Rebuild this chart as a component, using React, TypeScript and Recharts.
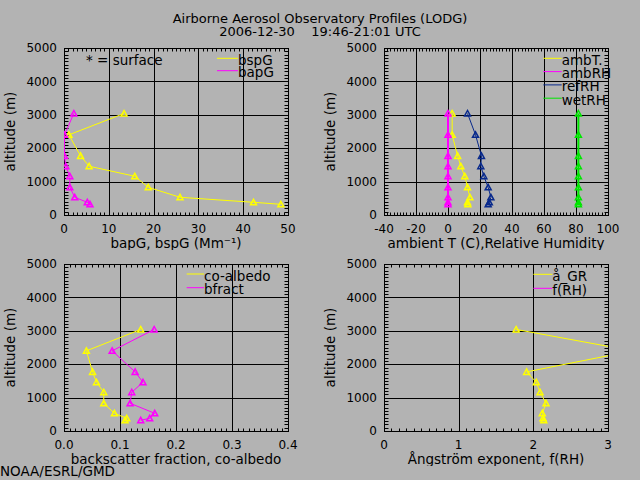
import React from 'react';
import { ScatterChart, Scatter, XAxis, YAxis, Legend, Label } from 'recharts';

const BG = '#b3b3b3';
const FONT = 'DejaVu Sans';
const YELLOW = '#ffff00';
const MAGENTA = '#ff00ff';
const NAVY = '#08298c';
const GREEN = '#00e600';

// profile levels (m), top of the flight first
const altitude = [3040, 2400, 1770, 1460, 1160, 830, 530, 380, 320];

// scattering / absorption (Mm-1)
const bspG = [13.4, 1.1, 3.7, 5.6, 15.8, 18.8, 25.9, 42.3, 48.4];
const bapG = [2.2, 0.1, 0.1, 0.4, 1.3, 1.3, 2.4, 5.2, 5.8];

// temperature (C) and humidities (%)
const ambT = [2.6, 2.6, 6.0, 8.0, 10.5, 12.2, 13.7, 12.2, 12.4];
const ambRH = [0, 0, 0, 0, 0, 0, 0, 0, 0];
const refRH = [12.2, 17.2, 20.9, 20.5, 22.4, 25.1, 26.8, 25.8, 25.1];
const wetRH = [81.5, 81.5, 81.5, 81.5, 81.5, 81.5, 81.5, 81.5, 81.5];

// backscatter fraction, co-albedo
const coAlbedo = [0.137, 0.04, 0.051, 0.058, 0.071, 0.071, 0.09, 0.112, 0.109];
const bfract = [0.161, 0.086, 0.127, 0.141, 0.121, 0.118, 0.162, 0.153, 0.137];

// angstrom exponent, f(RH)
const angstrom = [1.77, 3.33, 1.91, 2.04, 2.09, 2.17, 2.12, 2.13, 2.14];
const fRH: number[] = [];

const altTicks = [0, 1000, 2000, 3000, 4000, 5000];
const bspTicks = [0, 10, 20, 30, 40, 50];
const metTicks = [-40, -20, 0, 20, 40, 60, 80, 100];
const fracTicks = [0, 0.1, 0.2, 0.3, 0.4];
const angTicks = [0, 1, 2, 3];

const steps = (a: number, b: number, s: number) => {
  const out: number[] = [];
  const n = Math.round((b - a) / s);
  for (let i = 0; i <= n; i++) out.push(+(a + i * s).toFixed(4));
  return out;
};

const profile = (xs: number[]) => xs.map((x, i) => ({ x, alt: altitude[i] }));

const triangle = (color: string) => (p: any) => {
  const { cx, cy } = p;
  if (cx == null || cy == null) return <g />;
  return (
    <path
      d={`M${cx - 3},${cy + 2.5}L${cx + 3},${cy + 2.5}L${cx},${cy - 3}Z`}
      fill="none"
      stroke={color}
      strokeWidth={1.5}
    />
  );
};

type Series = { name: string; color: string; values: number[]; width?: number };

interface PanelProps {
  left: number;
  top: number;
  xDomain: [number, number];
  xTicks: number[];
  xMinor: number[];
  xFmt?: (v: number) => string;
  xLabel: string;
  series: Series[];
  legend: { x0: number; x1: number; y0: number; dy: number };
  note?: string;
}

const W = 320;
const H = 210;
const MARGIN = { top: 8, right: 32, left: 4, bottom: 0 };
const Y_AXIS_W = 60;
const X_AXIS_H = 35;
const Y_DOMAIN: [number, number] = [0, 5000];

const txt = { fill: '#000', fontSize: 13.5, fontFamily: FONT };
const tickTxt = { fill: '#000', fontSize: 12, fontFamily: FONT };

// plot area of every panel, same as the chart margins give
const plot = {
  x0: MARGIN.left + Y_AXIS_W,
  x1: W - MARGIN.right,
  y0: MARGIN.top,
  y1: H - MARGIN.bottom - X_AXIS_H,
};

const lin = (d: [number, number], r: [number, number]) => (v: number) =>
  r[0] + ((v - d[0]) / (d[1] - d[0])) * (r[1] - r[0]);

// box, grid and inward minor ticks, drawn underneath the chart
function Frame({ xDomain, xTicks, xMinor }: { xDomain: [number, number]; xTicks: number[]; xMinor: number[] }) {
  const sx = lin(xDomain, [plot.x0, plot.x1]);
  const sy = lin(Y_DOMAIN, [plot.y1, plot.y0]);
  const yMinor = steps(0, 5000, 100);
  const L = plot.x0 + 0.5;
  const R = plot.x1 + 0.5;
  const T = plot.y0 + 0.5;
  const B = plot.y1 + 0.5;
  const cx = (v: number) => Math.round(sx(v)) + 0.5;
  const cy = (v: number) => Math.round(sy(v)) + 0.5;
  return (
    <svg width={W} height={H} style={{ position: 'absolute', left: 0, top: 0 }}>
      <g fill="none" stroke="#000" strokeWidth={1}>
        {xTicks.map((t) => (
          <line key={'gx' + t} x1={cx(t)} x2={cx(t)} y1={T} y2={B} />
        ))}
        {altTicks.map((t) => (
          <line key={'gy' + t} x1={L} x2={R} y1={cy(t)} y2={cy(t)} />
        ))}
        {xMinor.map((t) => (
          <g key={'mx' + t}>
            <line x1={cx(t)} x2={cx(t)} y1={B} y2={B - 3} />
            <line x1={cx(t)} x2={cx(t)} y1={T} y2={T + 3} />
          </g>
        ))}
        {yMinor.map((t) => (
          <g key={'my' + t}>
            <line x1={L} x2={L + 4} y1={cy(t)} y2={cy(t)} />
            <line x1={R} x2={R - 4} y1={cy(t)} y2={cy(t)} />
          </g>
        ))}
        <rect x={L} y={T} width={R - L} height={B - T} />
      </g>
    </svg>
  );
}

function Panel({ left, top, xDomain, xTicks, xMinor, xFmt, xLabel, series, legend, note }: PanelProps) {
  const legendContent = () => (
    <svg width={W} height={H} style={{ overflow: 'visible' }}>
      {note && (
        <text x={86} y={legend.y0 + 6.5} style={{ ...txt, whiteSpace: 'pre' }}>
          {note}
        </text>
      )}
      {series.map((s, i) => {
        const y = legend.y0 + i * legend.dy;
        return (
          <g key={s.name}>
            <line x1={legend.x0} x2={legend.x1} y1={y} y2={y} stroke={s.color} strokeWidth={1} />
            <text x={legend.x1} y={y + 6.5} style={txt}>
              {s.name}
            </text>
          </g>
        );
      })}
    </svg>
  );

  return (
    <div style={{ position: 'absolute', left, top, width: W, height: H }}>
      <Frame xDomain={xDomain} xTicks={xTicks} xMinor={xMinor} />
      <div style={{ position: 'absolute', left: 0, top: 0 }}>
        <ScatterChart width={W} height={H} margin={MARGIN}>
          <XAxis
            type="number"
            dataKey="x"
            domain={xDomain}
            ticks={xTicks}
            allowDataOverflow
            interval={0}
            axisLine={false}
            tickLine={false}
            tickSize={0}
            tickMargin={9}
            height={X_AXIS_H}
            tick={tickTxt}
            tickFormatter={xFmt}
          >
            <Label value={xLabel} position="insideBottom" offset={2} style={txt} />
          </XAxis>
          <YAxis
            type="number"
            dataKey="alt"
            domain={Y_DOMAIN}
            ticks={altTicks}
            allowDataOverflow
            interval={0}
            axisLine={false}
            tickLine={false}
            tickSize={0}
            tickMargin={7}
            width={Y_AXIS_W}
            tick={tickTxt}
          >
            <Label
              value="altitude (m)"
              angle={-90}
              position="insideLeft"
              offset={6}
              style={{ ...txt, textAnchor: 'middle' }}
            />
          </YAxis>

          {series
            .filter((s) => s.values.length > 0)
            .map((s) => (
              <Scatter
                key={s.name}
                name={s.name}
                data={profile(s.values)}
                line={{ stroke: s.color, strokeWidth: s.width ?? 1 }}
                lineType="joint"
                shape={triangle(s.color)}
                isAnimationActive={false}
              />
            ))}

          <Legend
            layout="vertical"
            align="center"
            verticalAlign="middle"
            wrapperStyle={{ left: 0, top: 0, width: W, height: H, pointerEvents: 'none' }}
            content={legendContent}
          />
        </ScatterChart>
      </div>
    </div>
  );
}

export default function App() {
  return (
    <div
      style={{
        position: 'absolute',
        left: 0,
        top: 0,
        width: 640,
        height: 480,
        background: BG,
        overflow: 'hidden',
      }}
    >
      <svg width={640} height={480} style={{ position: 'absolute', left: 0, top: 0 }}>
        <text x={320} y={23} textAnchor="middle" style={{ ...txt, fontSize: 13 }}>
          Airborne Aerosol Observatory Profiles (LODG)
        </text>
        <text x={320} y={36} textAnchor="middle" style={{ ...txt, fontSize: 13, whiteSpace: 'pre' }}>
          {'2006-12-30    19:46-21:01 UTC'}
        </text>
        <text x={0} y={476} style={txt}>
          NOAA/ESRL/GMD
        </text>
      </svg>

      <Panel
        left={0}
        top={40}
        xDomain={[0, 50]}
        xTicks={bspTicks}
        xMinor={steps(0, 50, 1)}
        xLabel="bapG, bspG (Mm⁻¹)"
        series={[
          { name: 'bspG', color: YELLOW, values: bspG },
          { name: 'bapG', color: MAGENTA, values: bapG },
        ]}
        legend={{ x0: 217, x1: 238, y0: 18.3, dy: 12.4 }}
        note="* = surface"
      />
      <Panel
        left={320}
        top={40}
        xDomain={[-40, 100]}
        xTicks={metTicks}
        xMinor={steps(-40, 100, 2)}
        xLabel="ambient T (C),Relative Humidity"
        series={[
          { name: 'ambT.', color: YELLOW, values: ambT },
          { name: 'ambRH', color: MAGENTA, values: ambRH, width: 2 },
          { name: 'refRH', color: NAVY, values: refRH },
          { name: 'wetRH', color: GREEN, values: wetRH, width: 2 },
        ]}
        legend={{ x0: 223.3, x1: 241.7, y0: 18.3, dy: 13.3 }}
      />
      <Panel
        left={0}
        top={256}
        xDomain={[0, 0.4]}
        xTicks={fracTicks}
        xMinor={steps(0, 0.4, 0.01)}
        xFmt={(v) => v.toFixed(1)}
        xLabel="backscatter fraction, co-albedo"
        series={[
          { name: 'co-albedo', color: YELLOW, values: coAlbedo },
          { name: 'bfract', color: MAGENTA, values: bfract },
        ]}
        legend={{ x0: 186.7, x1: 204, y0: 18, dy: 13.7 }}
      />
      <Panel
        left={320}
        top={256}
        xDomain={[0, 3]}
        xTicks={angTicks}
        xMinor={steps(0, 3, 0.1)}
        xLabel="Ångström exponent, f(RH)"
        series={[
          { name: 'å_GR', color: YELLOW, values: angstrom },
          { name: 'f(RH)', color: MAGENTA, values: fRH },
        ]}
        legend={{ x0: 213.3, x1: 232.3, y0: 18.3, dy: 14 }}
      />
    </div>
  );
}
